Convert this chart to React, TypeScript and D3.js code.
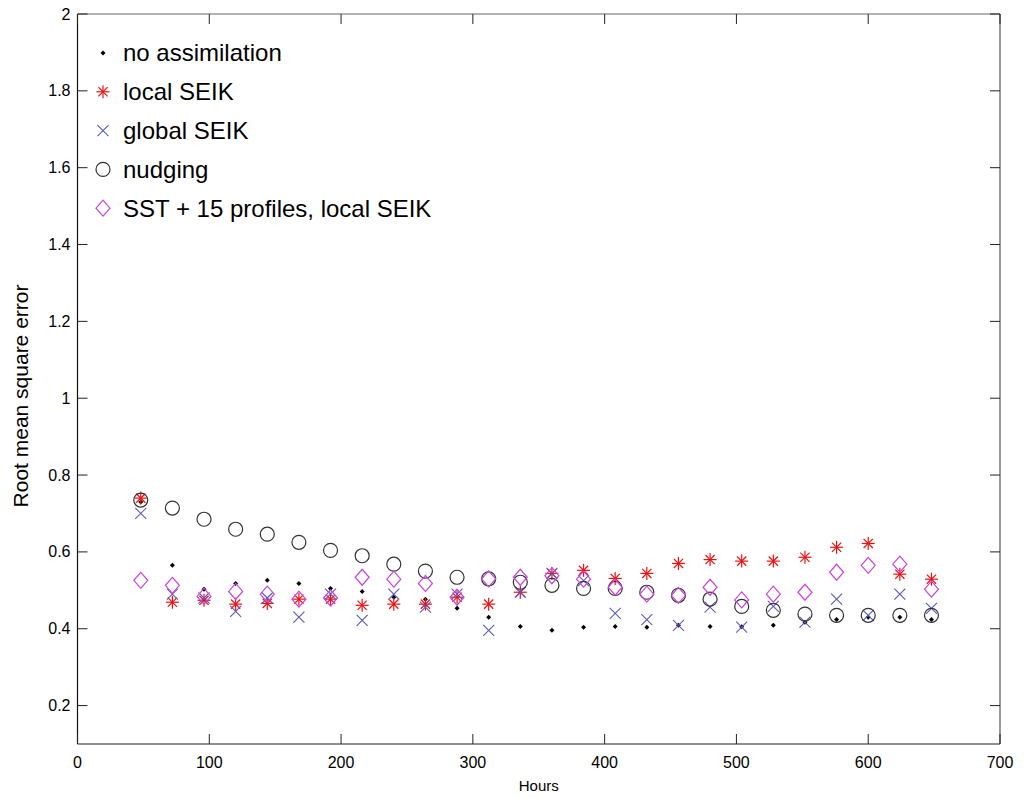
import React from 'react';
import * as d3 from 'd3';

const width = 1024;
const height = 798;
const margin = {top: 14, right: 24, bottom: 54, left: 77.5};
const font = 'Liberation Sans, Arial, Helvetica, sans-serif';

const red = '#ee1111';
const blue = '#5a5ac0';
const magenta = '#cc44dd';
const dark = '#333333';

// hours of each analysis
const hours = [48, 72, 96, 120, 144, 168, 192, 216, 240, 264, 288, 312, 336, 360, 384, 408, 432, 456, 480, 504, 528, 552, 576, 600, 624, 648];

const noAssim = [0.73, 0.565, 0.503, 0.518, 0.526, 0.518, 0.505, 0.497, 0.482, 0.477, 0.453, 0.43, 0.406, 0.396, 0.404, 0.406, 0.404, 0.409, 0.406, 0.405, 0.409, 0.417, 0.424, 0.43, 0.43, 0.424];
const localSeik = [0.74, 0.469, 0.474, 0.464, 0.466, 0.477, 0.477, 0.461, 0.464, 0.464, 0.482, 0.464, 0.495, 0.544, 0.552, 0.531, 0.544, 0.57, 0.58, 0.576, 0.576, 0.586, 0.612, 0.622, 0.542, 0.529];
const globalSeik = [0.70, 0.49, 0.48, 0.445, 0.48, 0.43, 0.49, 0.422, 0.49, 0.456, 0.49, 0.396, 0.495, 0.544, 0.525, 0.44, 0.424, 0.409, 0.456, 0.404, 0.458, 0.417, 0.477, 0.435, 0.49, 0.453];
const nudging = [0.735, 0.714, 0.685, 0.659, 0.646, 0.625, 0.604, 0.59, 0.568, 0.55, 0.534, 0.53, 0.521, 0.513, 0.505, 0.505, 0.495, 0.487, 0.477, 0.458, 0.448, 0.438, 0.435, 0.435, 0.435, 0.435];
const sstProfiles = [0.526, 0.513, 0.484, 0.497, 0.49, 0.477, 0.48, 0.534, 0.529, 0.518, 0.482, 0.53, 0.534, 0.538, 0.529, 0.508, 0.49, 0.487, 0.508, 0.475, 0.49, 0.495, 0.547, 0.565, 0.568, 0.503];

const xTicks = [0, 100, 200, 300, 400, 500, 600, 700];
const yTicks = [0.2, 0.4, 0.6, 0.8, 1, 1.2, 1.4, 1.6, 1.8, 2];

const series = [
  {name: 'no assimilation', values: noAssim, marker: 'dot'},
  {name: 'local SEIK', values: localSeik, marker: 'star'},
  {name: 'global SEIK', values: globalSeik, marker: 'x'},
  {name: 'nudging', values: nudging, marker: 'circle'},
  {name: 'SST + 15 profiles, local SEIK', values: sstProfiles, marker: 'diamond'},
];

const xScale = d3.scaleLinear().domain([0, 700]).range([margin.left, width - margin.right]);
const yScale = d3.scaleLinear().domain([0.1, 2]).range([height - margin.bottom, margin.top]);

function Marker({type, x, y}: {type: string; x: number; y: number}) {
  if (type === 'dot') {
    return <path d={`M${x},${y - 2.5}L${x + 2.5},${y}L${x},${y + 2.5}L${x - 2.5},${y}Z`} fill="#000" />;
  }
  if (type === 'star') {
    const s = 6.5, d = 4.6;
    return (
      <g stroke={red} strokeWidth={1.2}>
        <line x1={x - s} y1={y} x2={x + s} y2={y} />
        <line x1={x} y1={y - s} x2={x} y2={y + s} />
        <line x1={x - d} y1={y - d} x2={x + d} y2={y + d} />
        <line x1={x - d} y1={y + d} x2={x + d} y2={y - d} />
      </g>
    );
  }
  if (type === 'x') {
    const s = 5.5;
    return (
      <g stroke={blue} strokeWidth={1.1}>
        <line x1={x - s} y1={y - s} x2={x + s} y2={y + s} />
        <line x1={x - s} y1={y + s} x2={x + s} y2={y - s} />
      </g>
    );
  }
  if (type === 'circle') {
    return <circle cx={x} cy={y} r={7} fill="none" stroke={dark} strokeWidth={1.2} />;
  }
  return <path d={`M${x},${y - 8}L${x + 7},${y}L${x},${y + 8}L${x - 7},${y}Z`} fill="none" stroke={magenta} strokeWidth={1.2} />;
}

export default function App() {
  const x0 = margin.left, x1 = width - margin.right;
  const y0 = height - margin.bottom, y1 = margin.top;
  const tickLen = 10;
  const fmt = (d: number) => String(+d.toFixed(1));

  return (
    <svg width={width} height={height} style={{position: 'absolute', left: 0, top: 0, background: '#fff'}} fontFamily={font}>
      <rect x={0} y={0} width={width} height={height} fill="#fff" />
      {/* frame */}
      <line x1={x0} y1={y1} x2={x1} y2={y1} stroke="#666" strokeWidth={1.2} />
      <line x1={x1} y1={y1} x2={x1} y2={y0} stroke="#555" strokeWidth={1.2} />
      <line x1={x0} y1={y0} x2={x1} y2={y0} stroke="#222" strokeWidth={1.2} />
      <line x1={x0} y1={y1} x2={x0} y2={y0} stroke="#111" strokeWidth={1.2} />

      {xTicks.map(t => (
        <g key={'x' + t}>
          <line x1={xScale(t)} x2={xScale(t)} y1={y0} y2={y0 - tickLen} stroke="#222" />
          <line x1={xScale(t)} x2={xScale(t)} y1={y1} y2={y1 + tickLen} stroke="#222" />
          <text x={xScale(t)} y={y0 + 24} textAnchor="middle" fontSize={16}>{t}</text>
        </g>
      ))}
      {yTicks.map(t => (
        <g key={'y' + t}>
          <line x1={x0} x2={x0 + tickLen} y1={yScale(t)} y2={yScale(t)} stroke="#222" />
          <line x1={x1} x2={x1 - tickLen} y1={yScale(t)} y2={yScale(t)} stroke="#222" />
          <text x={x0 - 7} y={yScale(t)} dy="0.35em" textAnchor="end" fontSize={16}>{fmt(t)}</text>
        </g>
      ))}

      <text x={(x0 + x1) / 2} y={height - 7} textAnchor="middle" fontSize={15}>Hours</text>
      <text transform={`translate(28, 396) rotate(-90)`} textAnchor="middle" fontSize={21}>Root mean square error</text>

      {series.map(s => (
        <g key={s.name}>
          {s.values.map((v, i) => (
            <Marker key={i} type={s.marker} x={xScale(hours[i])} y={yScale(v)} />
          ))}
        </g>
      ))}

      {/* legend */}
      {series.map((s, i) => {
        const ly = 53 + i * 38.8;
        return (
          <g key={'leg' + s.name}>
            <Marker type={s.marker} x={103} y={ly} />
            <text x={123} y={ly} dy="0.35em" fontSize={24}>{s.name}</text>
          </g>
        );
      })}
    </svg>
  );
}
